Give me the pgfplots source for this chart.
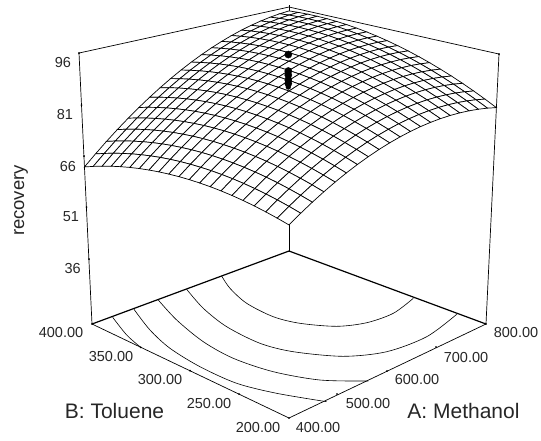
\documentclass[border=0pt]{standalone}
\usepackage{fontspec}
\setmainfont{Liberation Sans}
\usepackage{pgfplots}
\pgfplotsset{compat=1.18}
\def\U{(-1+0.1*floor((\coordindex+0.5)/21))}
\def\V{(-1+0.1*mod(\coordindex,21))}
\def\H{((\thisrow{z}-17)/79)}
\def\AX{0.1257}
\begin{document}
\begin{tikzpicture}
\useasboundingbox (0,0) rectangle (541pt,440pt);
\begin{axis}[at={(0,0)},anchor=south west,scale only axis,width=541pt,height=440pt,
  view={0}{90},hide axis,clip=false,xmin=0,xmax=541,ymin=0,ymax=440,zmin=-2,zmax=2,y dir=reverse,
  every axis plot/.append style={black}]
% back frame
\addplot3[line width=0.7pt,no marks] coordinates {(92,324,0)(79,53,0)(289,7,0)(499,54,0)(486,324,0)};
\addplot3[line width=0.7pt,no marks] coordinates {(289,5,0)(289,251,0)};
% floor
\addplot3[line width=1.2pt,no marks] coordinates {(92,324,0)(289,251,0)(486,324,0)};
\addplot3[line width=0.7pt,no marks] coordinates {(92,324,0)(289,418,0)(486,324,0)};
% contours
\addplot3[line width=0.6pt,smooth,no marks] coordinates {(221.7,276,0)(230,288.3,0)(246.7,303.3,0)(273.3,316.7,0)(300,323.3,0)(336.7,326.3,0)(366.7,322.7,0)(393.3,313.3,0)(413.3,298.3,0)};
\addplot3[line width=0.6pt,smooth,no marks] coordinates {(186.7,289.3,0)(203.3,308.3,0)(226.7,326.7,0)(260,343.3,0)(293.3,351.7,0)(343.3,356.3,0)(386.7,351.7,0)(426.7,336.7,0)(456.7,314.3,0)};
\addplot3[line width=0.6pt,smooth,no marks] coordinates {(158.3,300,0)(176.7,320,0)(203.3,341.7,0)(233.3,358.3,0)(273.3,371.7,0)(320,380,0)(368.3,381,0)};
\addplot3[line width=0.6pt,smooth,no marks] coordinates {(134,309.3,0)(150,330,0)(170,348.3,0)(200,366.7,0)(236.7,383.3,0)(276.7,393.3,0)(326.7,401.7,0)};
\addplot3[line width=0.6pt,smooth,no marks] coordinates {(112.7,317.3,0)(126.7,335,0)(140.7,347.3,0)};
% tick marks
\addplot3[only marks,mark=*,mark size=0.7pt] coordinates {(140.7,347.3,0)(190,370.7,0)(239,394,0)(337,394,0)(387,371,0)(436,347,0)(81.5,105,0)(84,156,0)(86.5,207,0)(89,259,0)(79,53,0)(499,54,0)(92,324,0)(486,324,0)(289,418,0)};
% response surface: z values, rows A=400..800 in 20 steps, inside each row B=200..400 in 20 steps
\addplot3[surf,shader=faceted,z buffer=sort,mesh/rows=21,mesh/cols=21,line width=0.7pt,faceted color=black,
  colormap={w}{color(0cm)=(white) color(1cm)=(white)}]
 table[row sep=\\,header=true,
  x expr={289+197*(\U-\V)/2/(1+\AX*(\U+\V)/2-0.0619*\H)},
  y expr={(324-41.4*(\U+\V)/2-273.8*\H)/(1+0.1257*(\U+\V)/2-0.0619*\H)},
  z expr={-(\U+\V)/2}] {
z\\
68.30\\68.97\\69.55\\70.04\\70.44\\70.74\\70.95\\71.06\\71.08\\71.01\\70.85\\70.59\\70.24\\69.80\\69.27\\68.64\\67.92\\67.10\\66.19\\65.19\\64.10\\
70.23\\70.95\\71.57\\72.11\\72.55\\72.90\\73.16\\73.31\\73.38\\73.35\\73.24\\73.03\\72.72\\72.33\\71.84\\71.26\\70.59\\69.81\\68.95\\67.99\\66.95\\
72.02\\72.78\\73.45\\74.04\\74.53\\74.92\\75.22\\75.42\\75.54\\75.56\\75.49\\75.32\\75.06\\74.72\\74.28\\73.74\\73.11\\72.38\\71.57\\70.66\\69.66\\
73.67\\74.48\\75.20\\75.82\\76.36\\76.80\\77.15\\77.40\\77.55\\77.62\\77.60\\77.48\\77.27\\76.96\\76.57\\76.08\\75.50\\74.82\\74.04\\73.18\\72.23\\
75.19\\76.04\\76.81\\77.48\\78.07\\78.55\\78.94\\79.24\\79.44\\79.56\\79.58\\79.50\\79.34\\79.08\\78.74\\78.29\\77.75\\77.12\\76.39\\75.58\\74.67\\
76.58\\77.48\\78.29\\79.01\\79.64\\80.17\\80.61\\80.95\\81.20\\81.36\\81.43\\81.40\\81.28\\81.07\\80.77\\80.37\\79.88\\79.29\\78.61\\77.84\\76.98\\
77.82\\78.77\\79.62\\80.39\\81.06\\81.64\\82.13\\82.51\\82.81\\83.01\\83.13\\83.15\\83.07\\82.91\\82.65\\82.30\\81.86\\81.31\\80.68\\79.95\\79.14\\
78.93\\79.92\\80.82\\81.64\\82.36\\82.98\\83.51\\83.94\\84.29\\84.54\\84.70\\84.76\\84.73\\84.62\\84.41\\84.10\\83.70\\83.20\\82.62\\81.94\\81.17\\
79.91\\80.95\\81.90\\82.75\\83.52\\84.19\\84.77\\85.25\\85.63\\85.93\\86.14\\86.25\\86.27\\86.19\\86.03\\85.77\\85.42\\84.97\\84.42\\83.79\\83.07\\
80.75\\81.83\\82.83\\83.73\\84.55\\85.26\\85.88\\86.41\\86.84\\87.19\\87.44\\87.59\\87.66\\87.63\\87.52\\87.30\\86.99\\86.59\\86.09\\85.51\\84.83\\
81.45\\82.58\\83.62\\84.57\\85.43\\86.19\\86.86\\87.43\\87.91\\88.30\\88.60\\88.80\\88.91\\88.93\\88.86\\88.69\\88.43\\88.07\\87.62\\87.08\\86.45\\
82.02\\83.20\\84.28\\85.28\\86.18\\86.99\\87.71\\88.32\\88.85\\89.28\\89.63\\89.88\\90.03\\90.10\\90.07\\89.95\\89.74\\89.42\\89.02\\88.52\\87.94\\
82.45\\83.67\\84.80\\85.85\\86.80\\87.65\\88.41\\89.07\\89.65\\90.13\\90.52\\90.81\\91.01\\91.13\\91.15\\91.07\\90.90\\90.63\\90.28\\89.83\\89.29\\
82.74\\84.01\\85.19\\86.27\\87.27\\88.17\\88.98\\89.69\\90.30\\90.83\\91.27\\91.61\\91.86\\92.01\\92.08\\92.05\\91.93\\91.71\\91.39\\90.99\\90.50\\
82.90\\84.21\\85.44\\86.57\\87.62\\88.56\\89.41\\90.17\\90.83\\91.41\\91.89\\92.27\\92.57\\92.77\\92.89\\92.90\\92.82\\92.65\\92.38\\92.03\\91.58\\
82.93\\84.29\\85.56\\86.74\\87.83\\88.82\\89.72\\90.52\\91.23\\91.85\\92.38\\92.81\\93.15\\93.40\\93.56\\93.62\\93.59\\93.46\\93.24\\92.93\\92.53\\
82.81\\84.22\\85.53\\86.76\\87.89\\88.93\\89.88\\90.72\\91.48\\92.14\\92.72\\93.20\\93.58\\93.88\\94.08\\94.19\\94.21\\94.12\\93.95\\93.68\\93.33\\
82.56\\84.01\\85.37\\86.65\\87.83\\88.91\\89.90\\90.79\\91.60\\92.31\\92.93\\93.45\\93.88\\94.23\\94.48\\94.63\\94.69\\94.65\\94.53\\94.31\\94.00\\
82.18\\83.68\\85.09\\86.40\\87.63\\88.76\\89.80\\90.74\\91.58\\92.34\\93.01\\93.58\\94.06\\94.44\\94.74\\94.94\\95.05\\95.06\\94.97\\94.80\\94.54\\
81.66\\83.20\\84.66\\86.02\\87.30\\88.47\\89.55\\90.54\\91.43\\92.24\\92.95\\93.56\\94.09\\94.52\\94.87\\95.11\\95.26\\95.32\\95.28\\95.16\\94.94\\
81.00\\82.59\\84.09\\85.50\\86.82\\88.04\\89.17\\90.20\\91.14\\91.99\\92.75\\93.41\\93.98\\94.46\\94.85\\95.14\\95.34\\95.44\\95.45\\95.37\\95.20\\
};
% replicate design points
\addplot3[only marks,mark=*,mark size=3.6pt] coordinates {(288.3,54.5,0)(288.3,71,0)(288.3,75,0)(288.3,80,0)(288.3,83.5,0)};
\addplot3[only marks,mark=*,mark size=2.4pt] coordinates {(288.3,87,0)};
\tikzset{tk/.style={font=\fontsize{14.5}{16}\selectfont,text=black!85,inner sep=0pt,anchor=center},
         ax/.style={font=\fontsize{21}{23}\selectfont,text=black!85,inner sep=0pt,anchor=center}}
\node[tk] at (axis cs:63,62,0) {96};
\node[tk] at (axis cs:65,114,0) {81};
\node[tk] at (axis cs:68,166,0) {66};
\node[tk] at (axis cs:71,217,0) {51};
\node[tk] at (axis cs:72.7,268,0) {36};
\node[tk] at (axis cs:61,332,0) {400.00};
\node[tk] at (axis cs:111,356.7,0) {350.00};
\node[tk] at (axis cs:160,379,0) {300.00};
\node[tk] at (axis cs:209,403,0) {250.00};
\node[tk] at (axis cs:258,427,0) {200.00};
\node[tk] at (axis cs:318,427,0) {400.00};
\node[tk] at (axis cs:368,403,0) {500.00};
\node[tk] at (axis cs:417,379,0) {600.00};
\node[tk] at (axis cs:466,357,0) {700.00};
\node[tk] at (axis cs:516,332,0) {800.00};
\node[ax] at (axis cs:114.5,410.7,0) {B: Toluene};
\node[ax] at (axis cs:463.5,410.7,0) {A: Methanol};
\node[ax,rotate=90,font=\fontsize{18.5}{20}\selectfont] at (axis cs:21,200.5,0) {recovery};
\end{axis}
\end{tikzpicture}
\end{document}
